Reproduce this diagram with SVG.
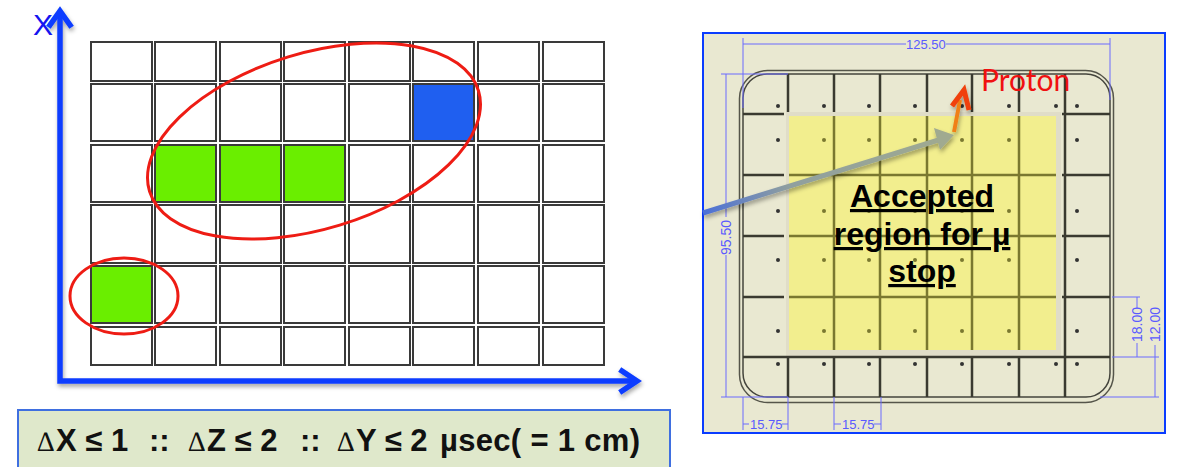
<svg xmlns="http://www.w3.org/2000/svg" width="1185" height="467" viewBox="0 0 1185 467">
<defs>
<style>
.c{fill:#fff;stroke:#3a3a3a;stroke-width:2}
.g{fill:#6aee00}
.b{fill:#1f5ff0}
.e{fill:none;stroke:#ee1c14;stroke-width:3}
.ax{fill:none;stroke:#0a3cff;stroke-width:5.5;stroke-linecap:square;stroke-linejoin:miter}
.d{fill:none;stroke:#6a6aff;stroke-width:1}
.dt{font-family:"Liberation Sans",sans-serif;font-size:14px;fill:#5a5aff}
.gl{stroke:#3a3a30;stroke-width:2.5;fill:none}
.gy{stroke:#7a7830;stroke-width:2.5;fill:none}
.dot{fill:#333}
.dy{fill:#7a7830}
.acc{font-family:"Liberation Sans",sans-serif;font-size:32px;font-weight:bold;text-decoration:underline;text-anchor:middle;fill:#000}
.f{font-family:"Liberation Sans",sans-serif;font-size:31px;font-weight:bold;fill:#111}
.fd{font-family:"Liberation Serif",serif;font-size:28px;fill:#111}
</style>
<filter id="sh" x="-10%" y="-10%" width="120%" height="120%"><feDropShadow dx="1" dy="3" stdDeviation="2" flood-color="#000" flood-opacity="0.35"/></filter>
<linearGradient id="ag" gradientUnits="userSpaceOnUse" x1="702" y1="213" x2="950" y2="135"><stop offset="0" stop-color="#4a6fd8"/><stop offset="0.35" stop-color="#8f9f9f"/><stop offset="1" stop-color="#a0aa90"/></linearGradient>
</defs>

<g id="grid">
<rect class="c" x="91" y="42" width="61" height="39"/><rect class="c" x="155" y="42" width="61" height="39"/><rect class="c" x="220" y="42" width="61" height="39"/><rect class="c" x="284" y="42" width="61" height="39"/><rect class="c" x="349" y="42" width="61" height="39"/><rect class="c" x="413" y="42" width="61" height="39"/><rect class="c" x="478" y="42" width="61" height="39"/><rect class="c" x="543" y="42" width="61" height="39"/>
<rect class="c" x="91" y="84" width="61" height="57"/><rect class="c" x="155" y="84" width="61" height="57"/><rect class="c" x="220" y="84" width="61" height="57"/><rect class="c" x="284" y="84" width="61" height="57"/><rect class="c" x="349" y="84" width="61" height="57"/><rect class="c b" x="413" y="84" width="61" height="57"/><rect class="c" x="478" y="84" width="61" height="57"/><rect class="c" x="543" y="84" width="61" height="57"/>
<rect class="c" x="91" y="145" width="61" height="57"/><rect class="c g" x="155" y="145" width="61" height="57"/><rect class="c g" x="220" y="145" width="61" height="57"/><rect class="c g" x="284" y="145" width="61" height="57"/><rect class="c" x="349" y="145" width="61" height="57"/><rect class="c" x="413" y="145" width="61" height="57"/><rect class="c" x="478" y="145" width="61" height="57"/><rect class="c" x="543" y="145" width="61" height="57"/>
<rect class="c" x="91" y="205" width="61" height="58"/><rect class="c" x="155" y="205" width="61" height="58"/><rect class="c" x="220" y="205" width="61" height="58"/><rect class="c" x="284" y="205" width="61" height="58"/><rect class="c" x="349" y="205" width="61" height="58"/><rect class="c" x="413" y="205" width="61" height="58"/><rect class="c" x="478" y="205" width="61" height="58"/><rect class="c" x="543" y="205" width="61" height="58"/>
<rect class="c g" x="91" y="266" width="61" height="57"/><rect class="c" x="155" y="266" width="61" height="57"/><rect class="c" x="220" y="266" width="61" height="57"/><rect class="c" x="284" y="266" width="61" height="57"/><rect class="c" x="349" y="266" width="61" height="57"/><rect class="c" x="413" y="266" width="61" height="57"/><rect class="c" x="478" y="266" width="61" height="57"/><rect class="c" x="543" y="266" width="61" height="57"/>
<rect class="c" x="91" y="327" width="61" height="38"/><rect class="c" x="155" y="327" width="61" height="38"/><rect class="c" x="220" y="327" width="61" height="38"/><rect class="c" x="284" y="327" width="61" height="38"/><rect class="c" x="349" y="327" width="61" height="38"/><rect class="c" x="413" y="327" width="61" height="38"/><rect class="c" x="478" y="327" width="61" height="38"/><rect class="c" x="543" y="327" width="61" height="38"/>
</g>
<g id="ellipses">
<ellipse class="e" cx="314" cy="141" rx="172" ry="88" transform="rotate(-17 314 141)"/>
<ellipse class="e" cx="124" cy="296" rx="54" ry="38"/>
</g>
<g id="axes" filter="url(#sh)">
<path class="ax" d="M60 14V381H634"/>
<path class="ax" d="M50 25L60 11L70 25"/>
<path class="ax" d="M622 371L637 381L622 391"/>
</g>
<text id="x-label" x="33" y="35" font-family="Liberation Sans,sans-serif" font-size="30" fill="#1414f0">X</text>

<g id="formula">
<rect x="18" y="410" width="652" height="60" fill="#dfe8cb" stroke="#3f6fe0" stroke-width="2"/>
<text class="fd" x="37" y="451">∆</text>
<text class="f" x="56" y="451" xml:space="preserve">X ≤ 1</text>
<text class="f" x="149" y="451">::</text>
<text class="fd" x="188" y="451">∆</text>
<text class="f" x="207" y="451" xml:space="preserve">Z ≤ 2</text>
<text class="f" x="300" y="451">::</text>
<text class="fd" x="337" y="451">∆</text>
<text class="f" x="356" y="451" xml:space="preserve">Y ≤ 2</text>
<text class="f" x="440" y="451" xml:space="preserve" textLength="200">µsec( = 1 cm)</text>
</g>

<g id="panel">
<rect x="703" y="33" width="462" height="400" fill="#e9e8d1" stroke="#0a3cff" stroke-width="2"/>
<rect x="739.500" y="70.500" width="374" height="332" rx="28" fill="none" stroke="#55554a" stroke-width="1.500"/>
<rect x="743" y="74" width="367" height="323" rx="24" fill="none" stroke="#44443c" stroke-width="1.500"/>
<rect x="786" y="112" width="275" height="244" fill="#e0ddc8"/>
<rect x="789" y="116" width="267" height="234" fill="#f2ee8e"/>
<path class="gl" d="M788 74V112M834 74V112M880 74V112M927 74V112M972 74V112M1019 74V112M1065 74V397M788 357V397M834 357V397M880 357V397M927 357V397M972 357V397M1019 357V397"/>
<path class="gl" d="M743 114H784M743 175H784M743 236H784M743 297H784M743 357H1110M1062 114H1110M1062 175H1110M1062 236H1110M1062 297H1110"/>
<path class="gy" d="M834 116V350M880 116V350M927 116V350M972 116V350M1019 116V350M789 175H1056M789 236H1056M789 297H1056"/>
<g class="dot"><circle cx="778" cy="106" r="2"/><circle cx="824" cy="106" r="2"/><circle cx="869" cy="106" r="2"/><circle cx="915" cy="106" r="2"/><circle cx="962" cy="106" r="2"/><circle cx="1009" cy="106" r="2"/><circle cx="1056" cy="106" r="2"/><circle cx="1077" cy="106" r="2"/>
<circle cx="778" cy="140" r="2"/><circle cx="778" cy="211" r="2"/><circle cx="778" cy="260" r="2"/><circle cx="778" cy="331" r="2"/>
<circle cx="1077" cy="140" r="2"/><circle cx="1077" cy="211" r="2"/><circle cx="1077" cy="260" r="2"/><circle cx="1077" cy="331" r="2"/>
<circle cx="778" cy="364" r="2"/><circle cx="824" cy="364" r="2"/><circle cx="869" cy="364" r="2"/><circle cx="915" cy="364" r="2"/><circle cx="962" cy="364" r="2"/><circle cx="1009" cy="364" r="2"/><circle cx="1056" cy="364" r="2"/><circle cx="1077" cy="364" r="2"/></g>
<g class="dy"><circle cx="824" cy="140" r="2"/><circle cx="869" cy="140" r="2"/><circle cx="915" cy="140" r="2"/><circle cx="962" cy="140" r="2"/><circle cx="1009" cy="140" r="2"/>
<circle cx="824" cy="211" r="2"/><circle cx="869" cy="211" r="2"/><circle cx="915" cy="211" r="2"/><circle cx="962" cy="211" r="2"/><circle cx="1009" cy="211" r="2"/>
<circle cx="824" cy="260" r="2"/><circle cx="869" cy="260" r="2"/><circle cx="915" cy="260" r="2"/><circle cx="962" cy="260" r="2"/><circle cx="1009" cy="260" r="2"/>
<circle cx="824" cy="331" r="2"/><circle cx="869" cy="331" r="2"/><circle cx="915" cy="331" r="2"/><circle cx="962" cy="331" r="2"/><circle cx="1009" cy="331" r="2"/></g>
</g>

<g id="dimensions">
<path class="d" d="M743 38V108M1110 38V100M743 44H906M946 44H1110M721 74H788M726 74V217M726 255V397M721 397H788M743 397V430M788 397V430M834 397V430M881 397V430M743 424H749M782 424H788M834 424H841M874 424H881M1112 297H1140M1112 357H1159M1137 297V308M1137 343V357M1155 345V397M1100 397H1159"/>
<text class="dt" x="906" y="49" style="font-size:13px">125.50</text>
<text class="dt" transform="translate(731 255) rotate(-90)">95.50</text>
<text class="dt" x="750" y="429" style="font-size:13px">15.75</text>
<text class="dt" x="842" y="429" style="font-size:13px">15.75</text>
<text class="dt" transform="translate(1142 342) rotate(-90)">18.00</text>
<text class="dt" transform="translate(1160 342) rotate(-90)">12.00</text>
</g>

<g id="connectors" filter="url(#sh)">
<path d="M703 213L945 138" fill="none" stroke="url(#ag)" stroke-width="5"/>
<path d="M934 128L954 135L940 150Z" fill="#a0aa90"/>
<path d="M954 132L960 100" fill="none" stroke="#f08018" stroke-width="4"/>
<path d="M952 106L964 90L969 110" fill="none" stroke="#f04008" stroke-width="5"/>
</g>
<text id="proton" x="981" y="91" font-family="Lato,sans-serif" font-size="30" fill="#f01010">Proton</text>
<text id="accepted" class="acc"><tspan x="922" y="207">Accepted</tspan><tspan x="922" y="245">region for µ</tspan><tspan x="922" y="282">stop</tspan></text>
</svg>
